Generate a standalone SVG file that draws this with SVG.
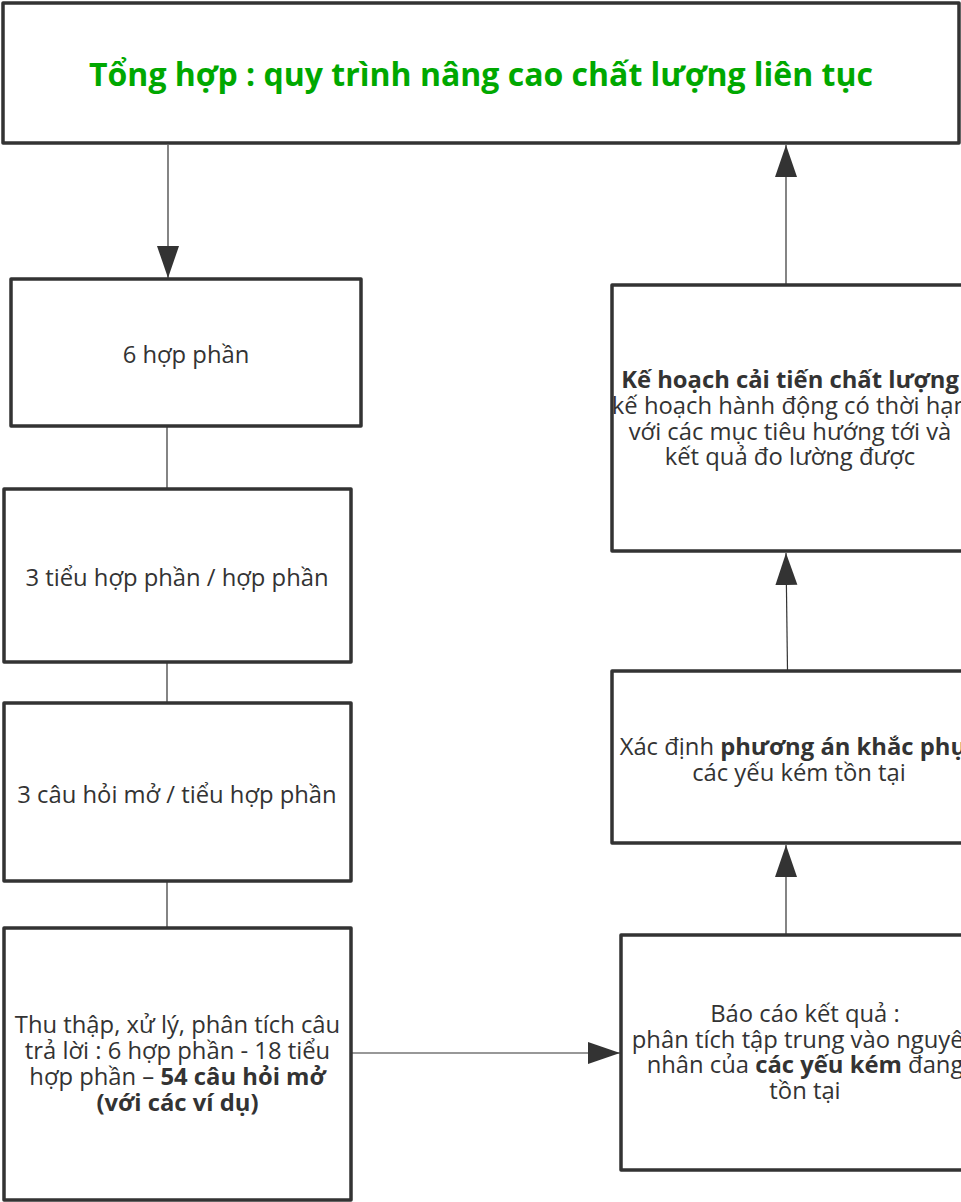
<svg xmlns="http://www.w3.org/2000/svg" width="961" height="1202" viewBox="0 0 961 1202">
<defs>
<style>
.box{fill:#ffffff;stroke:#333333;stroke-width:3.5;stroke-linejoin:round}
.conn{stroke:#333333;stroke-width:1.2;fill:none}
.t{font-family:"Open Sans","Noto Sans","Liberation Sans",sans-serif;font-size:23.8px;fill:#333333;text-anchor:middle}
.b{font-weight:bold}
.title{font-family:"Open Sans","Noto Sans","Liberation Sans",sans-serif;font-size:32px;font-weight:bold;fill:#00a800;text-anchor:middle}
</style>
<marker id="ah" markerUnits="userSpaceOnUse" markerWidth="34" markerHeight="24" refX="32" refY="11" orient="auto" viewBox="0 0 34 24">
<path d="M0,0 L32,11 L0,22 Z" fill="#333333"/>
</marker>
</defs>
<rect width="961" height="1202" fill="#ffffff"/>
<g id="connectors">
<line class="conn" x1="168" y1="145" x2="168" y2="278" marker-end="url(#ah)"/>
<line class="conn" x1="167" y1="426" x2="167" y2="489"/>
<line class="conn" x1="167" y1="662" x2="167" y2="703"/>
<line class="conn" x1="167" y1="881" x2="167" y2="928"/>
<line class="conn" x1="351" y1="1053" x2="620" y2="1053" marker-end="url(#ah)"/>
<line class="conn" x1="786" y1="935" x2="786" y2="845" marker-end="url(#ah)"/>
<line class="conn" x1="787.5" y1="671" x2="786" y2="553" marker-end="url(#ah)"/>
<line class="conn" x1="786" y1="285" x2="786" y2="145" marker-end="url(#ah)"/>
</g>
<g id="title">
<rect class="box" x="3" y="3" width="956" height="140"/>
<text class="title" x="481" y="86">Tổng hợp : quy trình nâng cao chất lượng liên tục</text>
</g>
<g id="n1">
<rect class="box" x="11" y="279" width="350" height="147"/>
<text class="t" x="186" y="363">6 hợp phần</text>
</g>
<g id="n2">
<rect class="box" x="4" y="489" width="347" height="173"/>
<text class="t" x="177" y="586">3 tiểu hợp phần / hợp phần</text>
</g>
<g id="n3">
<rect class="box" x="4" y="703" width="347" height="178"/>
<text class="t" x="177" y="803">3 câu hỏi mở / tiểu hợp phần</text>
</g>
<g id="n4">
<rect class="box" x="4" y="928" width="347" height="272"/>
<text class="t" x="177.5" y="1033">Thu thập, xử lý, phân tích câu</text>
<text class="t" x="177.5" y="1059">trả lời : 6 hợp phần - 18 tiểu</text>
<text class="t" x="177.5" y="1085">hợp phần – <tspan class="b">54 câu hỏi mở</tspan></text>
<text class="t b" x="177.5" y="1111">(với các ví dụ)</text>
</g>
<g id="n5">
<rect class="box" x="621" y="935" width="368" height="235"/>
<text class="t" x="805" y="1022">Báo cáo kết quả :</text>
<text class="t" x="805" y="1048">phân tích tập trung vào nguyên</text>
<text class="t" x="805" y="1073">nhân của <tspan class="b">các yếu kém</tspan> đang</text>
<text class="t" x="805" y="1099">tồn tại</text>
</g>
<g id="n6">
<rect class="box" x="612" y="671" width="374" height="172"/>
<text class="t" x="799" y="755">Xác định <tspan class="b">phương án khắc phục</tspan></text>
<text class="t" x="799" y="781">các yếu kém tồn tại</text>
</g>
<g id="n7">
<rect class="box" x="612" y="285" width="356" height="266"/>
<text class="t b" x="790" y="388">Kế hoạch cải tiến chất lượng</text>
<text class="t" x="790" y="414">kế hoạch hành động có thời hạn</text>
<text class="t" x="790" y="440">với các mục tiêu hướng tới và</text>
<text class="t" x="790" y="465">kết quả đo lường được</text>
</g>
</svg>
